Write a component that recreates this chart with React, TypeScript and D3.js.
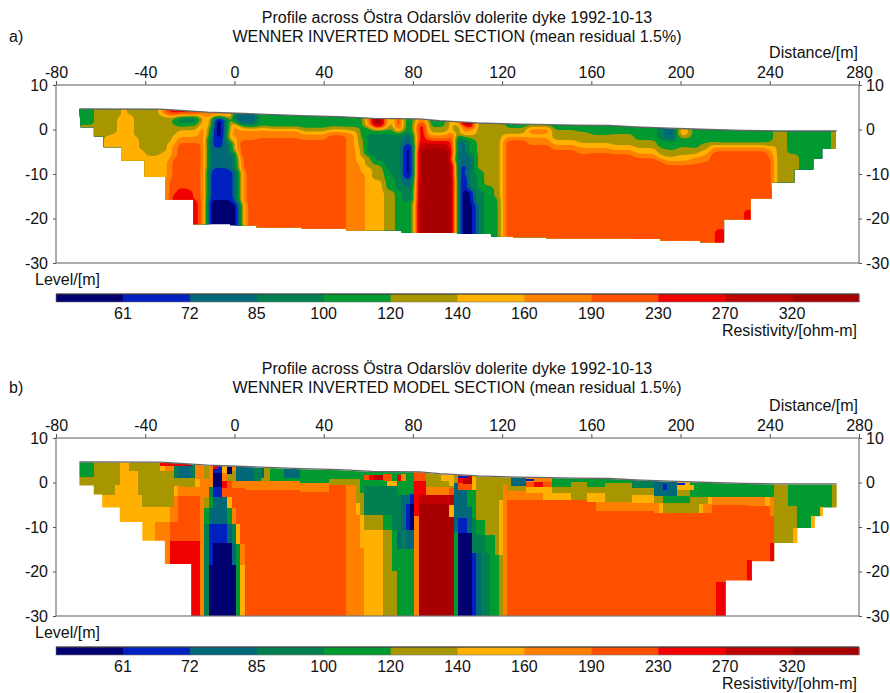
import React, { useEffect, useMemo, useRef } from 'react'
import * as d3 from 'd3'

// resistivity classes, lowest to highest
const bandColors = ['#000070', '#0020c0', '#006878', '#008050', '#009a30', '#a89600', '#ffb000', '#ff8000', '#ff5000', '#f00000', '#c00000', '#a80000']
const bandLabels = ['61', '72', '85', '100', '120', '140', '160', '190', '230', '270', '320']

const xTicks = [-80, -40, 0, 40, 80, 120, 160, 200, 240, 280]
const yTicks = [10, 0, -10, -20, -30]

// ground surface
const surfaceX = [-69.5, -33, -12, 4, 30, 47, 62, 83, 92, 109, 128, 153, 168, 180, 195, 213, 228, 243, 270]
const surfaceLevel = [4.65, 4.6, 3.9, 3.6, 3.1, 2.9, 2.5, 2.4, 2, 1.5, 1.2, 1, 0.9, 0.6, 0.3, 0, -0.2, -0.33, -0.33]

// base of section: [x from, level]
const baseA = [[-69, 0.5], [-63, -1.6], [-58.6, -4], [-50.8, -7], [-40.4, -10.7], [-31, -15.8], [-18.5, -21.3], [-2, -21.6], [10, -22], [30, -22.3], [50, -22.7], [75, -23.2], [100, -23.5], [115, -24.1], [125, -24.2], [140, -24.5], [177.5, -24.6], [191, -25], [209, -25.4], [219.5, -20.2], [231.4, -15.5], [241, -11.9], [251, -9], [259.5, -6.5], [263.5, -4.4]]
const baseAEnd = 269.7
const baseB = [[-69.5, -0.7], [-63.1, -2.7], [-59.3, -5.6], [-51.4, -8.9], [-41.3, -13.1], [-31.2, -18.3], [-19.4, -30], [220.3, -22], [232, -17.7], [242.1, -13.6], [252.3, -10.2], [260.2, -7.6], [263.8, -5.6]]
const baseBEnd = 270

// each strip: x from, then class, bottom level, class, bottom level, ... last class runs to the base
const stripsA = [
  [-69.5, 4, 1, 5], [-63.1, 5], [-58.6, 5, -1.5, 6], [-55.6, 5, -0.9, 6], [-52.6, 5, 2.9, 6], [-50.8, 6],
  [-48.1, 5, 3.3, 6], [-45.1, 5, -1.6, 6], [-42.9, 5, -4.6, 6], [-39.9, 5, -6, 6], [-33.2, 7, 3.3, 5, -5, 6],
  [-30.2, 9, 3.5, 7, 2.9, 5, -2.7, 6, -6.9, 7, -11.3, 8],
  [-28, 9, 3.5, 7, 2.9, 4, 1, 5, -1.2, 6, -3.5, 7, -6.1, 8, -14.4, 9],
  [-25.7, 9, 3.5, 7, 3, 3, 1.4, 4, 0.6, 5, -0.1, 6, -1.6, 7, -3.1, 8, -13.2, 9],
  [-21.2, 9, 3.5, 6, 3, 3, 1.5, 4, 0.8, 5, -0.1, 6, -1.6, 7, -3.1, 8, -13.6, 9],
  [-18.5, 9, 3.5, 6, 3, 3, 1.5, 4, 0.8, 5, -0.1, 6, -1.6, 7, -3.1, 8, -15.8, 9],
  [-16, 9, 3.5, 6, 2.9, 4, 2.1, 6, 0.6, 7, -3.1, 8],
  [-15, 7, 2.9, 6, 1, 7],
  [-12.5, 7, 2.5, 6, 0.6, 4, -1.6, 2, -9.1, 1, -15.8, 0],
  [-9.8, 7, 2.9, 0, -2, 1, -4.2, 2, -8.7, 1, -15.8, 0],
  [-5, 7, 2.9, 2, -1, 2, -8.7, 1, -15.8, 0],
  [-3, 7, 2.9, 6, -0.5, 7, -2.6, 3, -5.4, 2, -9.1, 1, -15.8, 0],
  [-0.6, 2, 1.5, 7, -1.2, 6, -5, 3, -9.1, 2, -16.6, 0],
  [1.6, 2, 1, 6, -0.5, 7, -2.4, 8, -6.5, 6, -9.1, 4, -16.6, 2],
  [3, 2, 1, 5, 0, 7, -2.4, 8, -9.1, 7, -16.6, 6],
  [5.2, 2, 1, 4, 0.3, 6, -0.2, 7, -2.4, 8],
  [10.2, 4, 0.6, 6, -0.1, 7, -2, 8],
  [14.6, 4, 0.6, 5, 0.2, 6, -0.1, 7, -2, 8],
  [29.6, 4, 0.3, 5, -0.5, 6, -0.9, 7, -2.4, 8],
  [41.6, 4, 0.6, 5, 0, 6, -0.5, 7, -1.2, 8],
  [49.8, 4, 0.6, 5, -0.3, 6, -0.7, 7],
  [54.3, 4, 0.6, 5, -3.9, 6, -7.6, 7],
  [56.5, 4, -1.6, 5, -6.1, 6, -9.8, 7],
  [58.7, 7, 0.7, 4, -0.9, 3, -5.7, 5, -8.4, 6],
  [61.7, 11, 0.5, 7, 0, 4, -0.9, 3, -6.9, 4, -8, 5, -11.3, 6],
  [67, 6, 0.3, 4, -0.9, 3, -9.1, 4, -13.6, 5],
  [70, 4, -0.9, 3, -10.6, 4, -13.6, 5],
  [72.2, 9, 0.3, 7, -0.5, 4, -1.2, 3, -13.6, 4],
  [75.2, 4, -0.5, 3, -1.6, 2, -12, 3, -16.2, 4],
  [76.2, 4, -1, 2, -3.5, 0, -11, 2, -13.2, 3, -16.2, 4],
  [79.7, 4, -1, 3, -3, 2, -12, 3, -16, 4],
  [81.2, 7, 1.4, 9, -3.1, 10, -4.5, 11],
  [86.4, 4, 0.6, 5, -0.9, 7, -2.4, 9, -3.1, 10, -4.2, 11],
  [95.4, 6, -0.1, 5, -0.5, 7, -2.4, 9, -4.6, 11],
  [96.9, 6, -0.7, 9, -5.7, 7, -7.6, 11],
  [99.1, 5, 1, 4, -1.6, 2, -10.6, 3],
  [101, 11, 1, 7, -1.2, 4, -2.4, 2, -8, 1, -10.6, 0],
  [104.3, 11, 0.3, 6, -1.6, 4, -5.4, 2, -9.1, 3, -13.6, 0],
  [106.8, 6, -1.2, 5, -2.4, 4, -9.8, 3, -16.6, 1],
  [108.8, 5, -9.1, 4, -13.6, 3],
  [111.8, 5, -12.8, 4],
  [116.3, 5, -15.5, 4],
  [118.5, 5],
  [120, 5, -0.9, 6, -2.4, 7],
  [121.5, 4, 0.3, 5, -0.9, 6, -1.6, 7, -2.4, 8],
  [131.2, 4, 0.6, 7, -0.9, 6, -2, 7, -3.5, 8],
  [141.7, 4, -0.1, 5, -2.4, 6, -3.5, 7, -4.6, 8],
  [153.7, 4, -0.5, 5, -3.1, 6, -4.2, 7, -5.4, 8],
  [159.6, 4, -1.2, 5, -3.1, 6, -4.2, 7, -5.2, 8],
  [168.6, 4, -0.9, 5, -3.5, 6, -4.5, 7, -5.5, 8],
  [179, 4, -2.4, 5, -4.2, 6, -5.4, 7, -6.5, 8],
  [189.5, 3, -2.4, 4, -4.2, 5, -5.7, 6, -6.9, 8],
  [192.5, 2, -2.4, 4, -4.5, 5, -6.1, 6, -7, 7, -8, 8],
  [198.5, 6, -1.6, 4, -3.9, 5, -5.7, 6, -7, 7, -8, 8],
  [204.4, 4, -4.2, 5, -5.4, 6, -6.5, 7, -7.7, 8],
  [208.9, 4, -3.1, 5, -4.6, 6, -5.7, 7, -7.2, 8],
  [213.4, 4, -2.7, 5, -3.5, 6, -4, 7, -5, 8],
  [216.5, 4, -3, 5, -3.5, 6, -4, 7, -4.8, 8, -22.6, 10],
  [219.4, 4, -3, 5, -3.5, 6, -4, 7, -4.8, 8],
  [229.5, 4, -3, 5, -3.5, 6, -4, 7, -4.8, 8, -18.1, 10],
  [231.7, 4, -3, 5, -3.5, 6, -4, 7, -4.8, 8],
  [238.8, 4, -2.7, 5, -3.9, 6, -4.6, 7, -6.1, 8],
  [240, 4, -2.7, 5, -3.9, 6, -4.6, 7, -6.1, 8, -13.6, 10],
  [241.5, 5, -3, 6],
  [242.7, 5],
  [247.8, 4, -5.4, 5],
  [253, 4],
  [257.5, 4, -7.6, 5],
  [259.5, 4],
  [267.5, 5],
]
const stripsB = [
  [-69.5, 4, 1.2, 5], [-63.1, 5], [-59.3, 5, -2.7, 6], [-53.4, 5, -0.5, 6], [-51.4, 6], [-47.4, 5, 2.5, 6],
  [-43.3, 5, -2.8, 6], [-41.3, 5, -5.4, 6], [-35.4, 5, -5.4, 6, -8.9, 7], [-33.2, 6, 2.5, 5, -5.4, 6, -8.9, 7],
  [-31.2, 7, 2.5, 5, -5.4, 6, -8.9, 7], [-29.1, 7, 2.5, 5, -5.4, 7, -8.9, 8, -13.1, 9],
  [-27.2, 3, 1, 5, -0.8, 6, -3, 7, -8.9, 8, -13.1, 9], [-25.3, 2, 1, 5, -0.8, 7, -3, 8, -13.1, 9],
  [-23.5, 2, 1, 5, -1.1, 7, -3, 8, -13.1, 9], [-19.4, 3, 1, 5, -1.1, 7, -3, 8, -13.2, 9],
  [-17.5, 7, 0.7, 6, -1.1, 7, -3, 8, -13.2, 9], [-15.5, 7],
  [-13.5, 5, 0.7, 7, -3.3, 5, -5.8, 4, -9.3, 3],
  [-11.5, 7, -0.9, 3, -3.3, 4, -5.8, 2, -9.3, 1, -18.5, 0],
  [-9.6, 1, 2.1, 0, -1.1, 1, -3.3, 2, -9.3, 1, -13.5, 0],
  [-5.5, 6, 2.1, 7, 0.4, 9, -1.3, 8, -3.3, 2, -9.3, 1, -13.5, 0],
  [-3.3, 0, 1.9, 5, 0.4, 8, -3.3, 6, -5.8, 4, -9.3, 2, -13.5, 0],
  [-1, 7, 2.5, 5, 0.4, 7, -1.3, 8, -5.8, 7, -9.3, 3, -13.6, 2, -18.5, 0],
  [0.7, 2, 0.4, 7, -1.3, 8, -9.3, 6, -13.8, 4],
  [2.7, 2, 0.4, 7, -1.3, 8, -13.8, 7, -18.5, 6],
  [4.9, 2, 0.4, 7, -1.7, 8], [8.7, 3, 0.4, 7, -1.7, 8], [11.7, 2, 0.9, 5, 0.4, 7, -1.7, 8], [13.2, 5, 0.4, 7, -1.7, 8],
  [16.1, 4, 0.4, 7, -1.7, 8], [22.1, 2, 0.9, 4, 0.4, 7, -1.7, 8],
  [29.6, 4, -0.2, 7, -2.2, 8], [42.3, 4, 0.7, 5, -0.5, 8], [50.2, 4, 0.7, 5, -0.5, 7],
  [54.3, 4, 0.7, 5, -4.5, 6, -7.3, 7], [56.5, 4, -2.4, 5, -7.3, 6, -14.7, 7], [58.3, 4, -0.8, 3, -7.3, 5, -10.6, 6],
  [66.5, 4, -0.8, 3, -7.3, 4, -10.6, 5], [70.7, 4, -0.8, 3, -10.6, 4, -19.8, 5],
  [72.7, 4, -2.8, 3, -10.6, 2, -14.9, 4], [74.5, 4, -2.8, 2, -10.6, 3, -14.9, 4],
  [76.7, 4, -2.8, 2, -4.8, 1, -10.6, 2, -14.9, 4], [78.6, 4, -2.6, 1, -4.8, 0, -10.6, 2, -14.9, 4],
  [80.7, 8, 0.4, 9, -7.5, 7], [82.7, 8, 0.4, 9, -2.8, 10, -4.8, 11], [86.1, 5, -0.9, 7, -2.8, 10, -4.8, 11],
  [96.1, 6, -0.7, 5, -1.3, 8, -2.8, 10, -5, 6, -7.8, 11], [98.4, 5, 0, 2, -11.2, 4],
  [100.2, 9, -0.2, 8, -1.7, 2, -8, 1, -11.4, 0], [104.4, 10, -0.3, 8, -1.7, 4, -5.4, 2, -11.4, 0],
  [106.4, 6, -1.7, 4, -8.2, 3, -15.9, 1], [108.5, 5, -8.4, 4, -11.8, 3, -15.9, 2], [110.5, 5, -8.4, 4, -11.8, 3],
  [112.5, 5, -11.8, 4, -15.9, 3], [114.5, 5, -11.8, 4], [116.6, 5, -16.2, 4], [118.5, 5, -4, 6, -16.2, 5],
  [120.5, 5, -0.5, 7], [122.2, 5, -2, 7, -4, 8], [124, 2, -0.8, 5, -2, 7, -4, 8], [130.5, 7, -0.9, 6, -2.3, 7, -4, 8],
  [138.5, 7, -0.9, 6, -4, 8], [142.5, 4, -0.9, 5, -2.3, 6, -4, 8], [150.7, 4, 0.2, 5, -4, 8], [158, 4, -0.9, 5, -2.4, 6, -4.3, 8],
  [162.3, 4, -0.9, 5, -2.4, 6, -4.3, 7, -6.3, 8], [166.3, 4, 0, 5, -4.3, 7, -6.3, 8], [178.3, 3, -1.3, 5, -2.8, 6, -4.5, 7, -6.5, 8],
  [188.3, 2, -3, 5, -4.7, 7, -6.8, 8], [190.5, 2, -3, 5, -4.7, 6, -6.9, 8], [192, 2, -3, 4, -4.7, 5, -6.9, 8],
  [198.5, 6, -1.7, 5, -3, 4, -4.7, 5, -6.9, 8], [204.1, 4, -3.2, 5, -6.9, 8], [208.2, 4, -3.2, 5, -4.8, 6, -6.9, 8],
  [210.1, 4, -3.2, 5, -4.8, 7, -6.9, 8], [212.2, 4, -3.2, 6, -4.8, 7, -6.9, 8], [214.2, 4, -3.2, 7, -5, 8],
  [216.1, 4, -3.2, 7, -5, 8, -22.4, 9], [220.3, 4, -3.2, 7, -5, 8], [230, 4, -3.3, 7, -5.2, 8, -17.5, 9], [232, 4, -3.3, 7, -5.2, 8],
  [238, 4, -3.3, 6, -5.2, 8], [240, 4, -3.3, 7, -7.5, 8, -13.6, 9], [242.1, 5], [248.1, 4, -5.25, 5], [250.2, 4, -5.25, 5, -10.3, 6],
  [252.3, 4], [258.3, 4, -7.5, 6], [260.2, 4], [262.3, 4, -5.4, 6], [263.8, 4], [268, 5],
]
const stripEnd = 270.5

// small cells just under the surface in panel b: x0, x1, top, bottom, class
const surfaceCellsB = [
  [-33.2, -22, 4.3, 3.6, 9], [-22, -19, 4.2, 3.7, 10], [-9.6, -7.5, 3.7, 3, 9], [-5.5, -3.3, 3.4, 2.8, 6],
  [58.3, 60.5, 1.7, 0.6, 8], [60.5, 62.5, 1.7, 0.6, 9], [62.5, 66.5, 1.6, 0.6, 10], [66.5, 70.7, 2, 0.4, 8],
  [68.5, 72.7, 0.4, -0.8, 6], [72.7, 74.5, 1.7, 0.4, 9], [74.5, 76.7, 2, 0.4, 7], [92.4, 96.1, 1.7, 0.4, 6],
  [100.2, 104.4, 1.5, 1, 1], [100.2, 102.4, 1, -0.2, 9], [102.4, 106.4, 0.7, -0.3, 10],
  [130.5, 134.2, 0.7, 0.3, 1], [130.5, 134.2, 0.2, -0.9, 8], [134.2, 138.4, 0.2, -0.9, 9], [138.4, 142.5, 0.2, -0.9, 8],
  [192, 194, -0.3, -1.7, 1], [198.2, 202.2, 0, -0.5, 1], [198.5, 206, -0.5, -1.7, 6],
]

const titleLine1 = 'Profile across Östra Odarslöv dolerite dyke 1992-10-13'
const titleLine2 = 'WENNER INVERTED MODEL SECTION (mean residual 1.5%)'

const left = 56
const right = 859
const top = 85
const bottom = 263
const font = '"Liberation Sans", Arial, sans-serif'
const textColor = '#111'

const x = d3.scaleLinear().domain([-80, 280]).range([left, right])
const y = d3.scaleLinear().domain([10, -30]).range([top, bottom])
const colorBand = d3.scaleBand<number>().domain(d3.range(bandColors.length)).range([left, right])

function classAt(strip: number[], level: number) {
  for (let j = 1; j < strip.length; j += 2) {
    if (j + 1 >= strip.length || level > strip[j + 1]) return strip[j]
  }
  return strip[strip.length - 1]
}

function outlinePath(base: number[][], end: number) {
  const pts: [number, number][] = surfaceX.map((sx, i) => [x(sx), y(surfaceLevel[i] - 0.12)])
  const stairs: [number, number][] = []
  base.forEach((b, i) => {
    const next = i + 1 < base.length ? base[i + 1][0] : end
    stairs.push([x(b[0]), y(b[1])], [x(next), y(b[1])])
  })
  return d3.line()(pts.concat([[x(end), y(surfaceLevel[surfaceLevel.length - 1] - 0.12)]], stairs.reverse())) + 'Z'
}

// panel a is a smoothed model: rasterise the strips, blur, then contour the class field
function SmoothModel({ strips }: { strips: number[][] }) {
  const layers = useMemo(() => {
    const w = right - left
    const h = bottom - top
    const edges = strips.map(s => s[0])
    const data = new Float64Array(w * h)
    for (let i = 0; i < w; i++) {
      const xm = x.invert(left + i + 0.5)
      const k = Math.max(0, Math.min(strips.length - 1, d3.bisectRight(edges, xm) - 1))
      for (let j = 0; j < h; j++) {
        data[j * w + i] = classAt(strips[k], y.invert(top + j + 0.5))
      }
    }
    d3.blur2({ data, width: w, height: h }, 2.5, 1.5)
    return d3.contours().size([w, h]).thresholds(d3.range(0.5, 11.5))(data as any)
  }, [strips])
  const path = d3.geoPath()
  return (
    <g transform={`translate(${left},${top})`}>
      <rect width={right - left} height={bottom - top} fill={bandColors[0]} />
      {layers.map(c => <path key={c.value} d={path(c) || ''} fill={bandColors[Math.ceil(c.value)]} />)}
    </g>
  )
}

function BlockModel({ strips, cells }: { strips: number[][]; cells: number[][] }) {
  const rects: React.ReactNode[] = []
  strips.forEach((s, i) => {
    const x0 = s[0]
    const x1 = i + 1 < strips.length ? strips[i + 1][0] : stripEnd
    let upper = 6
    for (let j = 1; j < s.length; j += 2) {
      const lower = j + 1 < s.length ? s[j + 1] : -30
      rects.push(<rect key={`${i}-${j}`} x={x(x0)} width={x(x1) - x(x0)} y={y(upper)} height={y(lower) - y(upper)} fill={bandColors[s[j]]} />)
      upper = lower
    }
  })
  return (
    <g shapeRendering="crispEdges">
      {rects}
      {cells.map((c, i) => <rect key={i} x={x(c[0])} width={x(c[1]) - x(c[0])} y={y(c[2])} height={y(c[3]) - y(c[2])} fill={bandColors[c[4]]} />)}
    </g>
  )
}

function Panel({ dy, titleDy, tag, children, base, baseEnd }: any) {
  const axes = useRef<SVGGElement>(null)
  useEffect(() => {
    const g = d3.select(axes.current)
    g.selectAll('*').remove()
    const fmt = (d: any) => String(d)
    g.append('g').attr('transform', `translate(0,${top})`).call(d3.axisTop(x).tickValues(xTicks).tickFormat(fmt).tickSize(4).tickPadding(3))
    g.append('g').attr('transform', `translate(${left},0)`).call(d3.axisLeft(y).tickValues(yTicks).tickFormat(fmt).tickSize(3).tickPadding(5))
    g.append('g').attr('transform', `translate(${right},0)`).call(d3.axisRight(y).tickValues(yTicks).tickFormat(fmt).tickSize(3).tickPadding(4))
    g.selectAll('.domain').remove()
    g.selectAll('.tick line').attr('stroke', '#555')
    g.selectAll('.tick text').attr('font-size', 16).attr('font-family', font).attr('fill', textColor)
  }, [])
  const id = `clip-${tag}`
  const surface = d3.line<number>().x(d => x(d)).y((_, i) => y(surfaceLevel[i]))(surfaceX) || ''
  return (
    <g>
      <g transform={`translate(0,${titleDy})`} fontFamily={font} fontSize={16} fill={textColor}>
        <text x={457} y={23} textAnchor="middle">{titleLine1}</text>
        <text x={457} y={42} textAnchor="middle">{titleLine2}</text>
        <text x={9} y={42}>{tag})</text>
      </g>
      <g transform={`translate(0,${dy})`} fontFamily={font} fontSize={16} fill={textColor}>
        <clipPath id={id}><path d={outlinePath(base, baseEnd)} /></clipPath>
        <g clipPath={`url(#${id})`}>{children}</g>
        <path d={surface} fill="none" stroke="#666" strokeWidth={1.3} />
        <rect x={left} y={top} width={right - left} height={bottom - top} fill="none" stroke="#777" strokeWidth={1.2} />
        <g ref={axes} />
        <text x={858} y={58} textAnchor="end">Distance/[m]</text>
        <text x={35} y={285}>Level/[m]</text>
        {bandColors.map((c, i) => <rect key={i} x={colorBand(i)} y={294} width={colorBand.bandwidth() + 0.5} height={8} fill={c} />)}
        <line x1={left} x2={right} y1={294} y2={294} stroke="#111" />
        <rect x={left} y={294} width={right - left} height={8} fill="none" stroke="#777" strokeWidth={0.6} />
        {bandLabels.map((l, i) => (
          <text key={l} x={colorBand(i + 1)} y={319} textAnchor="middle">{l}</text>
        ))}
        <text x={857} y={336} textAnchor="end">Resistivity/[ohm-m]</text>
      </g>
    </g>
  )
}

export default function App() {
  return (
    <svg width={890} height={693} style={{ position: 'absolute', left: 0, top: 0, display: 'block' }}>
      <rect width={890} height={693} fill="#fff" />
      <Panel dy={0} titleDy={0} tag="a" base={baseA} baseEnd={baseAEnd}>
        <SmoothModel strips={stripsA} />
      </Panel>
      <Panel dy={353} titleDy={351} tag="b" base={baseB} baseEnd={baseBEnd}>
        <BlockModel strips={stripsB} cells={surfaceCellsB} />
      </Panel>
    </svg>
  )
}
